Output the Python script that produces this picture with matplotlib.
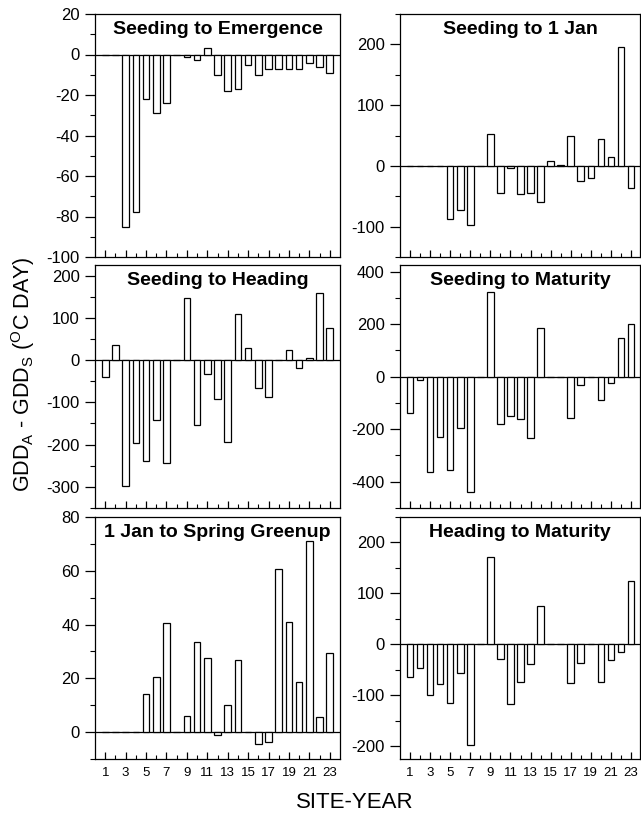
import matplotlib
matplotlib.use("Agg")
import matplotlib.pyplot as plt
import numpy as np
from matplotlib.ticker import MultipleLocator, FixedLocator

plt.rcParams['font.family'] = ['Liberation Sans', 'DejaVu Sans']
plt.rcParams['axes.unicode_minus'] = False
plt.rcParams['mathtext.fontset'] = 'custom'
plt.rcParams['mathtext.rm'] = 'Liberation Sans'
plt.rcParams['mathtext.default'] = 'regular'

# ---- data ----
sites = list(range(1, 24))
seeding_to_emergence = [0, 0, -85, -78, -22, -29, -24, 0, -1, -2.5, 3, -10, -18, -17,
                        -5, -10, -7, -7, -7, -7, -4, -6, -9]
seeding_to_1jan = [0, 0, 0, 0, -87, -73, -97, 0, 52, -45, -3, -46, -44, -60,
                   8, 1, 50, -25, -20, 44, 14, 196, -36]
seeding_to_heading = [-39, 35, -298, -197, -238, -142, -244, 0, 147, -154, -34, -92, -194, 110,
                      29, -67, -87, 0, 24, -19, 4, 159, 75]
seeding_to_maturity = [-138, -13, -363, -229, -357, -197, -439, 0, 322, -181, -150, -163, -233, 187,
                       0, 0, -159, -33, 0, -89, -25, 147, 201]
jan1_to_greenup = [0, 0, 0, 0, 14, 20.5, 40.5, 0, 6, 33.5, 27.5, -1, 10, 27,
                   0, -4.5, -3.5, 60.5, 41, 18.5, 71, 5.5, 29.5]
heading_to_maturity = [-64, -46, -99, -77, -116, -56, -197, 0, 171, -29, -118, -73, -39, 76,
                       0, 0, -75, -37, 0, -73, -31, -14, 125]

titles = ["Seeding to Emergence", "Seeding to 1 Jan", "Seeding to Heading",
          "Seeding to Maturity", "1 Jan to Spring Greenup", "Heading to Maturity"]
series = [seeding_to_emergence, seeding_to_1jan, seeding_to_heading,
          seeding_to_maturity, jan1_to_greenup, heading_to_maturity]
ylims = [(-100, 20), (-150, 250), (-350, 225), (-500, 425), (-10, 80), (-225, 250)]
ymajor = [20, 100, 100, 200, 20, 100]
yminor = [10, 50, 50, 100, 10, 50]
xtick_labels = [str(s) for s in range(1, 24, 2)]

W, H = 641, 814
fig = plt.figure(figsize=(W / 100, H / 100), dpi=100)

cols = [(95, 340, 24.0), (400, 640, 23.9)]
rows = [(14, 257), (265, 508), (517, 759)]

def rect(x0, x1, y0, y1):
    return [x0 / W, 1 - y1 / H, (x1 - x0) / W, (y1 - y0) / H]

for i in range(6):
    r, c = divmod(i, 2)
    x0, x1, xmax = cols[c]
    y0, y1 = rows[r]
    ax = fig.add_axes(rect(x0, x1, y0, y1))
    ax.bar(sites, series[i], width=0.65, facecolor='white', edgecolor='black',
           linewidth=0.9, zorder=3)
    ax.axhline(0, color='black', linewidth=0.9, zorder=2)
    ax.set_xlim(0, xmax)
    lo, hi = ylims[i]
    ax.set_ylim(lo, hi)
    first = int(np.ceil(lo / ymajor[i]) * ymajor[i])
    ax.yaxis.set_major_locator(FixedLocator(list(range(first, hi + 1, ymajor[i]))))
    ax.yaxis.set_minor_locator(MultipleLocator(yminor[i]))
    ax.xaxis.set_major_locator(FixedLocator(list(range(1, 24, 2))))
    ax.xaxis.set_minor_locator(FixedLocator(list(range(2, 23, 2))))
    ax.tick_params(axis='y', which='major', direction='out', length=7, width=0.9,
                   labelsize=12, pad=4)
    ax.tick_params(axis='y', which='minor', direction='out', length=3.5, width=0.8)
    ax.tick_params(axis='x', which='major', direction='in', length=5, width=0.9,
                   labelsize=9.5, pad=6)
    ax.tick_params(axis='x', which='minor', direction='in', length=2.8, width=0.8)
    if r == 2:
        ax.set_xticklabels(xtick_labels)
    else:
        ax.set_xticklabels([])
    for sp in ax.spines.values():
        sp.set_linewidth(0.9)
    ax.text(0.5, 0.935, titles[i], transform=ax.transAxes, ha='center', va='center',
            fontsize=14, fontweight='bold', zorder=5)

fig.text(355 / W, 1 - 802 / H, "SITE-YEAR", ha='center', va='center', fontsize=16)
fig.text(23 / W, 1 - 374 / H,
         r"GDD$_\mathregular{A}$ - GDD$_\mathregular{S}$ ($^\mathregular{O}$C DAY)",
         rotation=90, ha='center', va='center', fontsize=15.5)

fig.savefig("out.png", dpi=100)
